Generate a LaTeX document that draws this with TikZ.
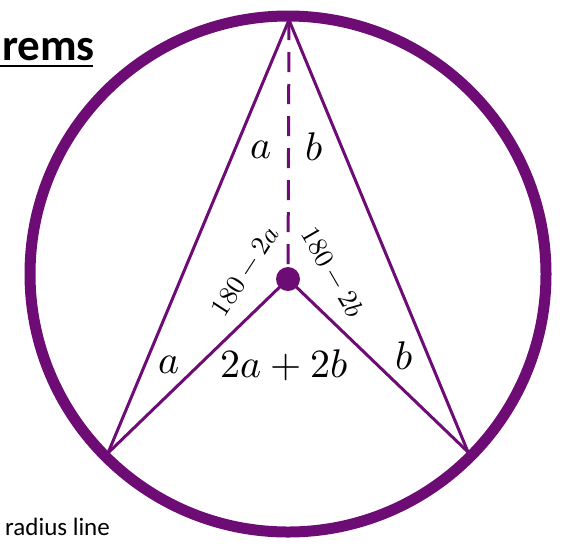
\documentclass[tikz,border=0pt]{standalone}
\usepackage{fontspec}
\usepackage{unicode-math}
\setmathfont{Latin Modern Math}
\newfontfamily\carlito{Carlito}
\definecolor{circlepurple}{RGB}{110,12,118}
\tikzset{
  chord/.style={line width=3pt, circlepurple},
  anglelabel/.style={font=\fontsize{40}{48}\selectfont},
  smalllabel/.style={font=\fontsize{27}{32}\selectfont}
}
\begin{document}
\begin{tikzpicture}[x=1pt, y=-1pt]
  \useasboundingbox (0,0) rectangle (562,550);

  % --- 1. circle and its points ---
  \draw[line width=11pt, circlepurple] (288,274) circle (258pt);
  \coordinate (Top) at (289,20);
  \coordinate (LeftEnd) at (108,453);
  \coordinate (RightEnd) at (468,452);
  \coordinate (Centre) at (288,279);

  % --- 2. chords, radii, dashed radius ---
  \draw[chord] (LeftEnd) -- (Top) -- (RightEnd);
  \draw[chord] (LeftEnd) -- (Centre) -- (RightEnd);
  \draw[chord, dash pattern=on 20pt off 12pt] (Top) -- (Centre);
  \fill[circlepurple] (Centre) circle (12pt);

  % --- 3. angle labels ---
  \node[anglelabel] (topA) at (261,150) {$a$};
  \node[anglelabel] (topB) at (314,147) {$b$};
  \node[anglelabel] (lowA) at (169,365) {$a$};
  \node[anglelabel] (lowB) at (404,356) {$b$};
  \node[anglelabel] (sumAB) at (284,365) {$2a+2b$};
  \node[smalllabel, rotate=57] (leftRest) at (245,271) {$180-2a$};
  \node[smalllabel, rotate=-60] (rightRest) at (333,272) {$180-2b$};

  % --- 4. texts ---
  \node[anchor=base west, inner sep=0pt, font=\carlito\bfseries\fontsize{45}{54}\selectfont] (title) at (2,60) {rems};
  \draw[line width=2.5pt] (0,66) -- (93,66);
  \node[anchor=base west, inner sep=0pt, font=\carlito\fontsize{25}{30}\selectfont] (note) at (5,535) {radius line};

\end{tikzpicture}
\end{document}
